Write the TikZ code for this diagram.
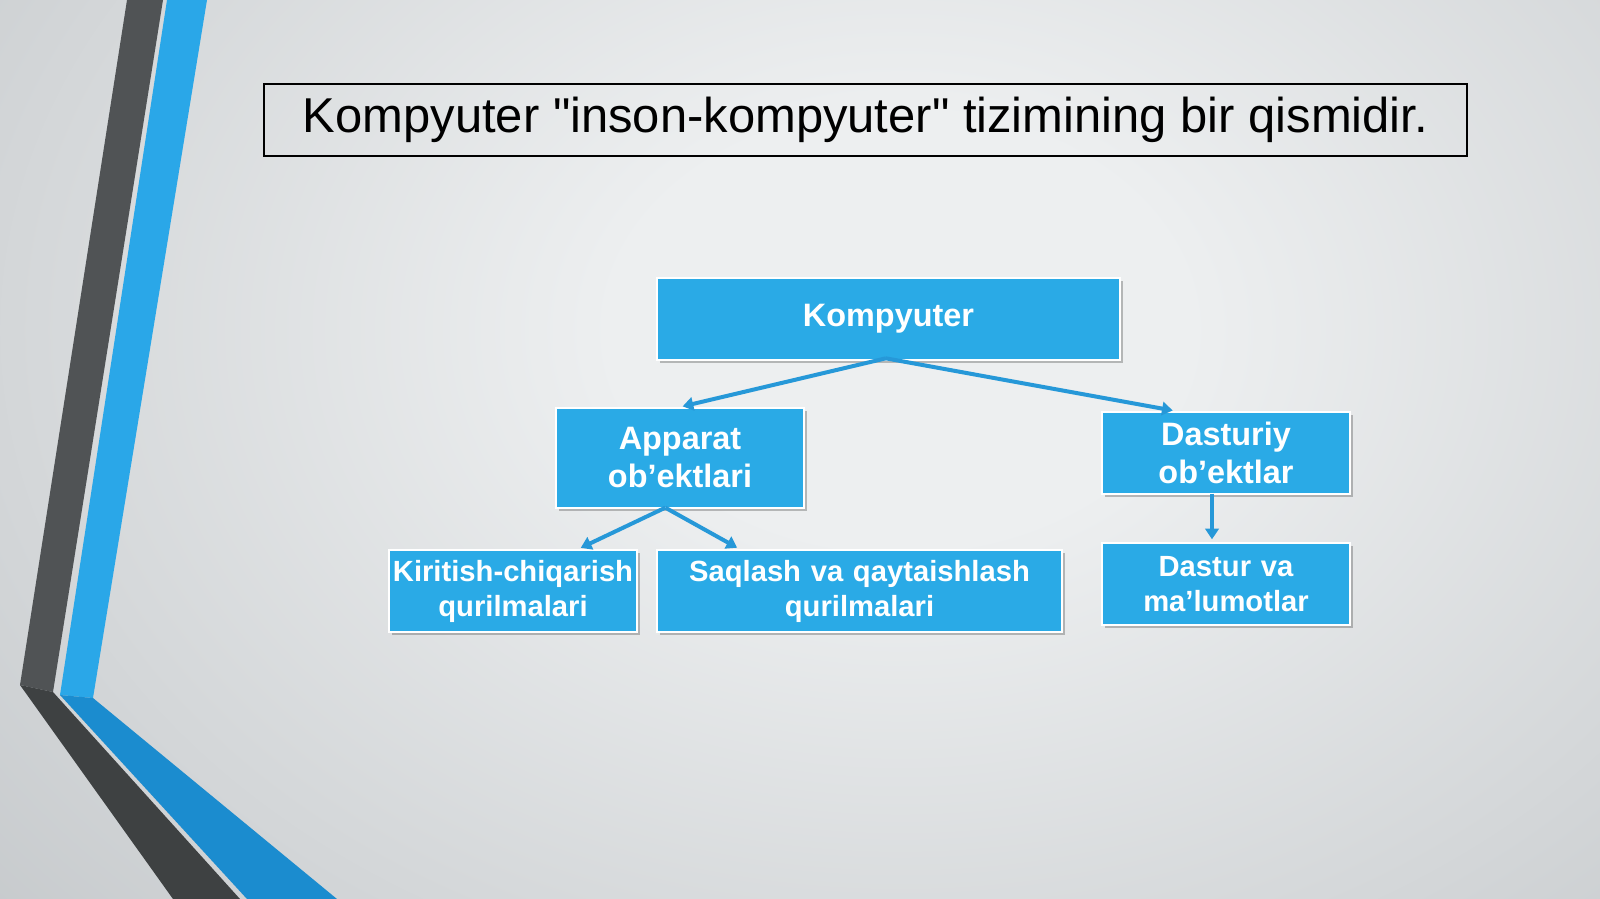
\documentclass[tikz,border=0pt]{standalone}
\usepackage{fontspec}
\setmainfont{Liberation Sans}[Ligatures=TeXOff]
\usetikzlibrary{arrows.meta,shadows}

\definecolor{bgin}{RGB}{237,239,240}
\definecolor{bgout}{RGB}{186,190,193}
\definecolor{boxblue}{RGB}{42,170,230}
\definecolor{linkblue}{RGB}{38,152,216}
\definecolor{bandgray}{RGB}{80,83,85}
\definecolor{banddark}{RGB}{62,65,66}
\definecolor{bandblue}{RGB}{42,167,232}
\definecolor{banddeep}{RGB}{27,140,207}

\pgfdeclareradialshading{slidebg}{\pgfpoint{0bp}{0bp}}{color(0bp)=(bgin); color(8bp)=(bgin); color(42bp)=(bgout); color(100bp)=(bgout)}

\tikzset{every picture/.style={line width=0.75pt}}
\tikzset{
  bluebox/.style={fill=boxblue, draw=white, line width=1.5pt, inner sep=0pt, align=center, text=white,
    font=\bfseries\fontsize{24.3}{28.5}\selectfont,
    drop shadow={shadow xshift=2.5pt, shadow yshift=-2.5pt, opacity=0.35, fill=black!70}},
  lowbox/.style={bluebox, font=\bfseries\fontsize{21.9}{26.3}\selectfont},
  link/.style={draw=linkblue, line width=3pt, shorten >=2pt, -{Triangle[length=8pt,width=10pt]}}
}

\begin{document}
\begin{tikzpicture}[x=0.75pt,y=0.75pt,yscale=-1,xscale=1]
\useasboundingbox (0,0) rectangle (1600,899);

%Shape: Background
\begin{scope}
\clip (0,0) rectangle (1600,899);
\shade [shading=slidebg] (0,-340) rectangle (1800,1000);
\end{scope}

%Shape: Left bands
\fill [bandgray] (127,0) -- (163,0) -- (53,692) -- (20,685) -- cycle ;
\fill [banddark] (20,685) -- (53,692) -- (240,899) -- (173,899) -- cycle ;
\fill [bandblue] (167,0) -- (207,0) -- (93,698) -- (60,695) -- cycle ;
\fill [banddeep] (60,695) -- (93,698) -- (337,899) -- (247,899) -- cycle ;

% Text Node
\node (title) [draw=black, line width=1.2pt, minimum width=902pt, minimum height=54pt, inner sep=0pt,
  font=\fontsize{36.7}{42}\selectfont] at (865.5,120) {Kompyuter "inson-kompyuter" tizimining bir qismidir.};

% Text Node
\node (komp) [bluebox, text width=347.25pt, minimum height=61.5pt] at (888.5,319) {Kompyuter};
% Text Node
\node (app) [bluebox, text width=186pt, minimum height=75pt] at (680,458) {Apparat\\ob’ektlari};
% Text Node
\node (dast) [bluebox, text width=186pt, minimum height=61.5pt] at (1226,453) {Dasturiy\\ob’ektlar};
% Text Node
\node (kir) [lowbox, text width=186pt, minimum height=61.5pt] at (513,591) {Kiritish-chiqarish\\qurilmalari};
% Text Node
\node (saq) [lowbox, text width=303.75pt, minimum height=61.5pt] at (859.5,591) {Saqlash va qaytaishlash\\qurilmalari};
% Text Node
\node (dm) [lowbox, text width=186pt, minimum height=61.5pt] at (1226,584) {Dastur va\\ma’lumotlar};

%Straight Lines
\draw [link] ([xshift=-2pt,yshift=-2pt]komp.south) -- (app.north) ;
\draw [link] ([xshift=-2pt,yshift=-2pt]komp.south) -- ([xshift=-38pt]dast.north) ;
\draw [link] ([xshift=-11pt,yshift=-1pt]app.south) -- ([xshift=49pt]kir.north) ;
\draw [link] ([xshift=-11pt,yshift=-1pt]app.south) -- ([xshift=-90pt]saq.north) ;
\draw [link] ([xshift=-10.5pt,yshift=-1pt]dast.south) -- ([xshift=-10.5pt]dm.north) ;

\end{tikzpicture}
\end{document}
